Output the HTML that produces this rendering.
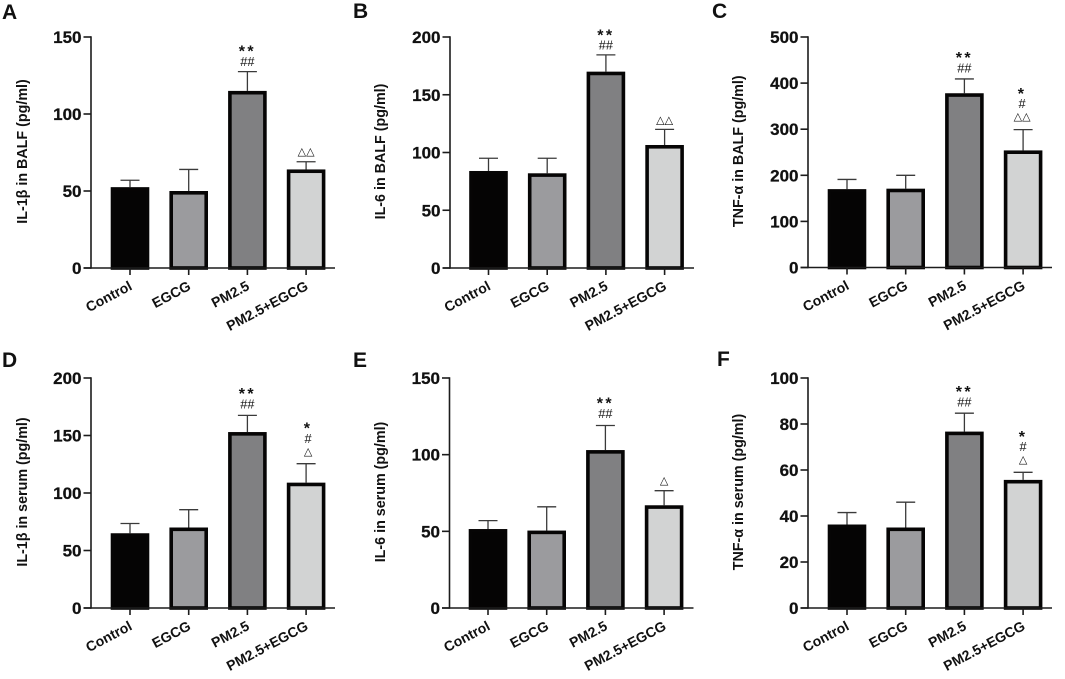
<!DOCTYPE html>
<html lang="en">
<head>
<meta charset="utf-8">
<title>Inflammatory cytokines in BALF and serum</title>
<style>
html,body{margin:0;padding:0;background:#fff;}
body{width:1065px;height:679px;overflow:hidden;}
svg{display:block;}
text{font-family:"Liberation Sans",Arial,sans-serif;fill:#111;}
</style>
</head>
<body>
<svg id="figure" xmlns="http://www.w3.org/2000/svg" width="1065" height="679" viewBox="0 0 1065 679"></svg>
<script>
const categories = ['Control', 'EGCG', 'PM2.5', 'PM2.5+EGCG'];

const ticksA = [0, 50, 100, 150];
const meansA = [52.5, 50, 115, 64];
const upperA = [57, 64, 127.5, 69];
const marksA = [[], [], ['##', '**'], ['△△']];

const ticksB = [0, 50, 100, 150, 200];
const meansB = [84, 82, 170, 106.5];
const upperB = [95, 95, 184.5, 120];
const marksB = [[], [], ['##', '**'], ['△△']];

const ticksC = [0, 100, 200, 300, 400, 500];
const meansC = [170, 171, 378, 254];
const upperC = [191, 200, 409, 299];
const marksC = [[], [], ['##', '**'], ['△△', '#', '*']];

const ticksD = [0, 50, 100, 150, 200];
const meansD = [65, 70, 153, 109];
const upperD = [73.5, 85.5, 167.5, 125.5];
const marksD = [[], [], ['##', '**'], ['△', '#', '*']];

const ticksE = [0, 50, 100, 150];
const meansE = [51.5, 50.5, 103, 67];
const upperE = [57, 66, 119, 76.5];
const marksE = [[], [], ['##', '**'], ['△']];

const ticksF = [0, 20, 40, 60, 80, 100];
const meansF = [36.3, 35, 76.7, 55.7];
const upperF = [41.5, 46, 84.7, 59];
const marksF = [[], [], ['##', '**'], ['△', '#', '*']];

const barFills = ['#050404', '#9b9b9e', '#808082', '#d2d3d3'];

const panels = [
  {id:'a', letter:'A', title:'IL-1β in BALF (pg/ml)',   ticks:ticksA, means:meansA, upper:upperA, marks:marksA, axisX:91,  y0:268,   yTop:37,  first:130,   lx:2,   ly:19,  tx:27,  gaps:[10, 22.3]},
  {id:'b', letter:'B', title:'IL-6 in BALF (pg/ml)',    ticks:ticksB, means:meansB, upper:upperB, marks:marksB, axisX:450, y0:268,   yTop:37,  first:488.5, lx:353, ly:18,  tx:385, gaps:[10, 21.7]},
  {id:'c', letter:'C', title:'TNF-α in BALF (pg/ml)',   ticks:ticksC, means:meansC, upper:upperC, marks:marksC, axisX:808, y0:267.5, yTop:37,  first:847,   lx:712, ly:18,  tx:743, gaps:[11, 23]},
  {id:'d', letter:'D', title:'IL-1β in serum (pg/ml)',  ticks:ticksD, means:meansD, upper:upperD, marks:marksD, axisX:91,  y0:608,   yTop:378, first:130,   lx:2,   ly:367, tx:27,  gaps:[11.3, 23.7]},
  {id:'e', letter:'E', title:'IL-6 in serum (pg/ml)',   ticks:ticksE, means:meansE, upper:upperE, marks:marksE, axisX:449.5, y0:608, yTop:378, first:488,   lx:353, ly:367, tx:385, gaps:[11.7, 24]},
  {id:'f', letter:'F', title:'TNF-α in serum (pg/ml)',  ticks:ticksF, means:meansF, upper:upperF, marks:marksF, axisX:808, y0:608,   yTop:378, first:847,   lx:717, ly:366, tx:743, gaps:[11, 23.3]}
];

/* gaps (px above the whisker) used for the stacks over the fourth bar */
const stackGaps = {c:[12.7, 26, 38], d:[12, 25, 37.3], f:[12.3, 25.7, 37.7], a:[10], b:[9.3], e:[9.7]};
const stackShift = {c:-1, d:2, f:0, a:0, b:0, e:0};

const BAR_STEP = 58.7;
const BAR_WIDTH = 38.6;
const BAR_STROKE = 3.6;
const TICK = 7;
const AXIS_EXTENT = 244;
const AXIS_COLOR = '#1c1c1c';

const NS = 'http://www.w3.org/2000/svg';
const figure = document.getElementById('figure');

function make(tag, parent) {
  const el = document.createElementNS(NS, tag);
  parent.appendChild(el);
  return el;
}
function line(parent, x1, y1, x2, y2, color, width) {
  const el = make('line', parent);
  el.setAttribute('x1', x1);
  el.setAttribute('y1', y1);
  el.setAttribute('x2', x2);
  el.setAttribute('y2', y2);
  el.setAttribute('stroke', color);
  el.setAttribute('stroke-width', width);
  return el;
}
function label(parent, x, y, str, size, weight, anchor) {
  const el = make('text', parent);
  el.setAttribute('x', x);
  el.setAttribute('y', y);
  el.setAttribute('font-size', size);
  el.setAttribute('font-weight', weight);
  el.setAttribute('text-anchor', anchor);
  el.textContent = str;
  return el;
}

panels.forEach(function (p) {
  const yMax = p.ticks[p.ticks.length - 1];
  const yScale = function (v) { return p.y0 - (v / yMax) * (p.y0 - p.yTop); };
  const xScale = function (i) { return p.first + i * BAR_STEP; };

  const g = make('g', figure);
  
  

  const letter = label(g, p.lx, p.ly, p.letter, 21, 'bold', 'start');
  
  

  const title = label(g, 0, 0, p.title, 14.3, 'bold', 'middle');
  title.setAttribute('transform', 'translate(' + p.tx + ',' + ((p.y0 + p.yTop) / 2 - 1) + ') rotate(-90)');
  
  

  p.means.forEach(function (m, i) {
    const cx = xScale(i);
    const topY = yScale(m);
    const upY = yScale(p.upper[i]);

    const stem = line(g, cx, upY, cx, topY, '#3a3a3a', 1.3);
    
    

    const cap = line(g, cx - 9.5, upY, cx + 9.5, upY, '#3a3a3a', 1.3);
    
    

    const bar = make('rect', g);
    bar.setAttribute('x', cx - BAR_WIDTH / 2 + BAR_STROKE / 2);
    bar.setAttribute('y', topY + BAR_STROKE / 2);
    bar.setAttribute('width', BAR_WIDTH - BAR_STROKE);
    bar.setAttribute('height', Math.max(0, p.y0 - topY - BAR_STROKE / 2));
    bar.setAttribute('fill', barFills[i]);
    bar.setAttribute('stroke', '#060505');
    bar.setAttribute('stroke-width', BAR_STROKE);
    
    

    p.marks[i].forEach(function (sym, k) {
      const isStack = i === 3;
      const gap = isStack ? stackGaps[p.id][k] : p.gaps[k];
      const centerY = upY - gap;
      const mx = cx + (isStack ? stackShift[p.id] : 0);
      let t;
      if (sym.charAt(0) === '*') {
        t = label(g, mx, centerY + 7.2, sym, 16, 'bold', 'middle');
        t.setAttribute('letter-spacing', '2.4');
      } else if (sym.charAt(0) === '#') {
        t = label(g, mx, centerY + 4.4, sym, 12.8, 'normal', 'middle');
      } else {
        t = label(g, mx, centerY + 3.2, sym, 11, 'normal', 'middle');
        t.setAttribute('style', 'font-family:"DejaVu Sans",sans-serif');
      }
      
      
    });
  });

  const yAxis = line(g, p.axisX, p.yTop - 0.8, p.axisX, p.y0 + 0.8, AXIS_COLOR, 1.6);
  
  

  const xAxis = line(g, p.axisX - TICK - 0.5, p.y0, p.axisX + AXIS_EXTENT, p.y0, AXIS_COLOR, 1.6);
  
  

  p.ticks.forEach(function (v) {
    const y = yScale(v);
    const tick = line(g, p.axisX - TICK - 0.5, y, p.axisX, y, AXIS_COLOR, 1.6);
    
    

    const tl = label(g, p.axisX - 9.5, y + 6, String(v), 17, 'bold', 'end');
    tl.setAttribute('stroke', '#111');
    tl.setAttribute('stroke-width', '0.25');
    
    
  });

  categories.forEach(function (c, i) {
    const cx = xScale(i);
    const tick = line(g, cx, p.y0, cx, p.y0 + TICK, AXIS_COLOR, 1.6);
    
    

    const tl = label(g, 0, 0, c, 14, 'bold', 'end');
    tl.setAttribute('transform', 'translate(' + (cx + 3) + ',' + (p.y0 + 21) + ') rotate(-28)');
    
    
  });
});
</script>
</body>
</html>
